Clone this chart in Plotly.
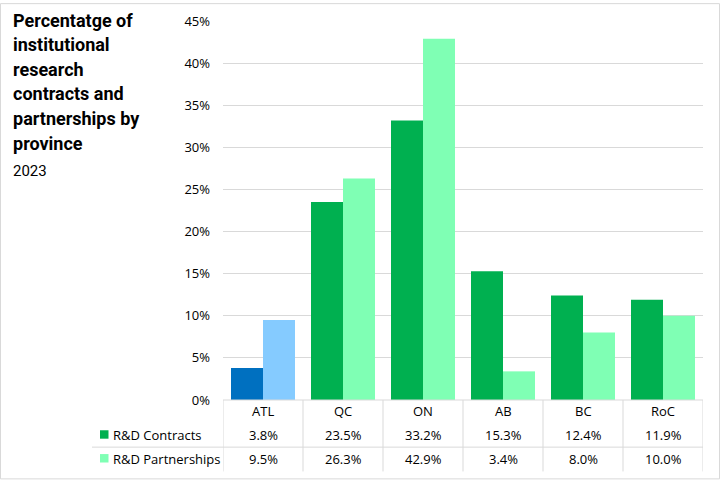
import plotly.graph_objects as go

categories = ["ATL", "QC", "ON", "AB", "BC", "RoC"]
contracts = [0.038, 0.235, 0.332, 0.153, 0.124, 0.119]
partnerships = [0.095, 0.263, 0.429, 0.034, 0.080, 0.100]
series_names = ["R&D Contracts", "R&D Partnerships"]
title_lines = ["Percentatge of", "institutional", "research", "contracts and", "partnerships by", "province"]
subtitle = "2023"

DARK_GREEN = "#00B050"
LIGHT_GREEN = "#7FFFB4"
DARK_BLUE = "#0070C0"
LIGHT_BLUE = "#85CBFF"

W, H = 720, 480
L, R, T, B = 223, 17, 18, 80
PW, PH = W - L - R, H - T - B


def px_x(px):
    return (px - L) / PW


def px_y(py):
    return (H - B - py) / PH


c1 = [DARK_BLUE] + [DARK_GREEN] * (len(categories) - 1)
c2 = [LIGHT_BLUE] + [LIGHT_GREEN] * (len(categories) - 1)

fig = go.Figure()
fig.add_bar(x=categories, y=contracts, name=series_names[0], marker_color=c1, marker_line_width=0)
fig.add_bar(x=categories, y=partnerships, name=series_names[1], marker_color=c2, marker_line_width=0)

font_main = "Open Sans, sans-serif"
FS = 13
ann = []
# title
for i, line in enumerate(title_lines):
    ann.append(dict(text="<b>" + line + "</b>", x=px_x(11), y=px_y(17 + i * 24.8),
                    xref="paper", yref="paper", xanchor="left", yanchor="middle",
                    showarrow=False, font=dict(family="Roboto, sans-serif", size=18, color="#000000")))
ann.append(dict(text=subtitle, x=px_x(11), y=px_y(169), xref="paper", yref="paper",
                xanchor="left", yanchor="middle", showarrow=False,
                font=dict(family="Roboto, sans-serif", size=15, color="#000000")))

# data table
row_y = [px_y(411), px_y(435), px_y(459)]
for i, cat in enumerate(categories):
    ann.append(dict(text=cat, x=cat, y=row_y[0], xref="x", yref="paper", showarrow=False,
                    yanchor="middle", font=dict(family=font_main, size=FS, color="#000000")))
    ann.append(dict(text=f"{contracts[i]*100:.1f}%", x=cat, y=row_y[1], xref="x", yref="paper",
                    showarrow=False, yanchor="middle", font=dict(family=font_main, size=FS, color="#000000")))
    ann.append(dict(text=f"{partnerships[i]*100:.1f}%", x=cat, y=row_y[2], xref="x", yref="paper",
                    showarrow=False, yanchor="middle", font=dict(family=font_main, size=FS, color="#000000")))
for j, name in enumerate(series_names):
    ann.append(dict(text=name, x=px_x(111), y=row_y[j + 1], xref="paper", yref="paper",
                    xanchor="left", yanchor="middle", showarrow=False,
                    font=dict(family=font_main, size=FS, color="#000000")))

shapes = []
# legend keys
for j, col in enumerate([DARK_GREEN, LIGHT_GREEN]):
    yc = 435 + 24 * j
    shapes.append(dict(type="rect", xref="paper", yref="paper", x0=px_x(100), x1=px_x(108.5),
                       y0=px_y(yc - 4.5), y1=px_y(yc + 4), fillcolor=col, line_width=0))
# table vertical separators
for k in range(len(categories) + 1):
    shapes.append(dict(type="line", xref="x", yref="paper", x0=k - 0.5, x1=k - 0.5,
                       y0=px_y(400), y1=px_y(472), line=dict(color="#D9D9D9", width=1)))
# horizontal separator between rows
shapes.append(dict(type="line", xref="paper", yref="paper", x0=px_x(92), x1=px_x(703),
                   y0=px_y(447.5), y1=px_y(447.5), line=dict(color="#D9D9D9", width=1)))
# axis line
shapes.append(dict(type="line", xref="paper", yref="paper", x0=0, x1=1, y0=0, y1=0,
                   line=dict(color="#D9D9D9", width=1)))
# outer border
shapes.append(dict(type="rect", xref="paper", yref="paper", x0=px_x(0.5), x1=px_x(719.5),
                   y0=px_y(479.5), y1=px_y(0.5), line=dict(color="#D9D9D9", width=1),
                   fillcolor="rgba(0,0,0,0)"))

fig.update_layout(
    width=W, height=H,
    margin=dict(l=L, r=R, t=T, b=B, pad=0),
    paper_bgcolor="white", plot_bgcolor="white",
    barmode="group", bargap=0.2, bargroupgap=0,
    showlegend=False,
    annotations=ann, shapes=shapes,
    font=dict(family=font_main, size=FS, color="#000000"),
)
fig.update_xaxes(showticklabels=False, showgrid=False, zeroline=False, showline=False,
                 range=[-0.5, len(categories) - 0.5])
fig.update_yaxes(range=[0, 0.45], dtick=0.05, tickformat=".0%", showgrid=True,
                 gridcolor="#D9D9D9", gridwidth=1, zeroline=False, showline=False,
                 ticks="", ticklabelstandoff=12,
                 tickfont=dict(family=font_main, size=FS, color="#000000"))

fig.write_html("out.html", config={"displayModeBar": False},
               post_script="document.body.style.margin='0';document.body.style.overflow='hidden';")
